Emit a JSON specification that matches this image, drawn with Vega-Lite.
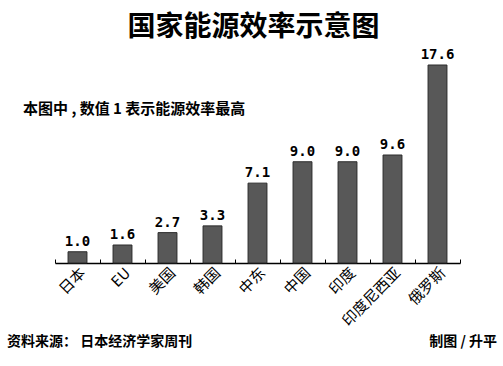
{
  "$schema": "https://vega.github.io/schema/vega-lite/v6.json",
  "autosize": {"type": "none"},
  "width": 405,
  "height": 198,
  "padding": {"left": 55, "top": 65, "right": 43, "bottom": 103},
  "background": "white",
  "title": {
    "text": "国家能源效率示意图",
    "font": "Noto Sans CJK SC",
    "fontWeight": "bold",
    "fontSize": 28,
    "color": "#000000",
    "anchor": "middle",
    "dx": -4,
    "offset": 6
  },
  "data": {
    "values": [
      {"country": "日本", "value": 1.0},
      {"country": "EU", "value": 1.6},
      {"country": "美国", "value": 2.7},
      {"country": "韩国", "value": 3.3},
      {"country": "中东", "value": 7.1},
      {"country": "中国", "value": 9.0},
      {"country": "印度", "value": 9.0},
      {"country": "印度尼西亚", "value": 9.6},
      {"country": "俄罗斯", "value": 17.6}
    ]
  },
  "encoding": {
    "x": {
      "field": "country",
      "type": "nominal",
      "sort": null,
      "scale": {"paddingInner": 0, "paddingOuter": 0},
      "axis": {
        "title": null,
        "labelAngle": -45,
        "labelAlign": "right",
        "labelBaseline": "top",
        "labelFont": "Noto Sans CJK SC",
        "labelFontSize": 15,
        "labelColor": "#000000",
        "labelPadding": 6,
        "tickBand": "extent",
        "tickSize": -4,
        "tickColor": "#000000",
        "tickWidth": 1,
        "domainColor": "#000000",
        "domainWidth": 1.5,
        "grid": false
      }
    }
  },
  "layer": [
    {
      "mark": {"type": "bar", "width": {"band": 0.42}, "fill": "#585858", "stroke": "#2a2a2a", "strokeWidth": 1},
      "encoding": {
        "y": {"field": "value", "type": "quantitative", "scale": {"domain": [0, 17.6], "nice": false}, "axis": null}
      }
    },
    {
      "mark": {"type": "text", "baseline": "alphabetic", "dy": -6, "font": "DejaVu Sans Mono", "fontSize": 14, "fontWeight": "bold", "color": "#000000"},
      "encoding": {
        "y": {"field": "value", "type": "quantitative"},
        "text": {"field": "value", "type": "quantitative", "format": ".1f"}
      }
    },
    {
      "data": {"values": [{"t": "本图中 , 数值 1 表示能源效率最高"}]},
      "mark": {"type": "text", "align": "left", "baseline": "middle", "font": "Noto Sans CJK SC", "fontWeight": "bold", "fontSize": 15, "color": "#000000"},
      "encoding": {"x": {"value": -32}, "y": {"value": 44}, "text": {"field": "t"}}
    },
    {
      "data": {"values": [{"t": "资料来源： 日本经济学家周刊"}]},
      "mark": {"type": "text", "align": "left", "baseline": "middle", "font": "Noto Sans CJK SC", "fontWeight": "bold", "fontSize": 14, "color": "#000000"},
      "encoding": {"x": {"value": -48}, "y": {"value": 277}, "text": {"field": "t"}}
    },
    {
      "data": {"values": [{"t": "制图 / 升平"}]},
      "mark": {"type": "text", "align": "right", "baseline": "middle", "font": "Noto Sans CJK SC", "fontWeight": "bold", "fontSize": 14, "color": "#000000"},
      "encoding": {"x": {"value": 442}, "y": {"value": 277}, "text": {"field": "t"}}
    }
  ],
  "config": {"view": {"stroke": null}}
}
